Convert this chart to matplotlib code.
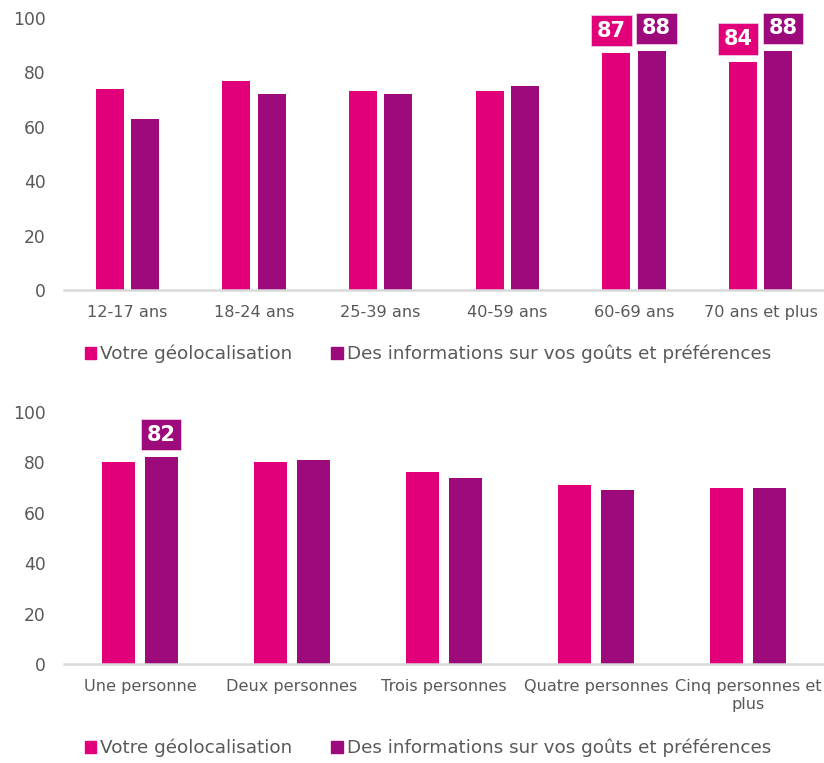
import matplotlib.pyplot as plt
import numpy as np
from matplotlib.patches import Rectangle

# data
series = ["Votre géolocalisation", "Des informations sur vos goûts et préférences"]
colors = ["#E2007A", "#9C0A7B"]

age_groups = ["12-17 ans", "18-24 ans", "25-39 ans", "40-59 ans", "60-69 ans", "70 ans et plus"]
age_geo = [74, 77, 73, 73, 87, 84]
age_gouts = [63, 72, 72, 75, 88, 88]
age_labelled = [(4, 0), (4, 1), (5, 0), (5, 1)]

foyer = ["Une personne", "Deux personnes", "Trois personnes", "Quatre personnes", "Cinq personnes et\nplus"]
foyer_geo = [80, 80, 76, 71, 70]
foyer_gouts = [82, 81, 74, 69, 70]
foyer_labelled = [(0, 1)]

plt.rcParams['font.family'] = ['DejaVu Sans']
W, H = 824, 763
fig = plt.figure(figsize=(W / 100, H / 100), dpi=100)
grey = "#595959"


def draw(ax, cats, vals, labelled):
    x = np.arange(len(cats))
    w, off = 0.22, 0.14
    for k, v in enumerate(vals):
        ax.bar(x + (2 * k - 1) * off, v, w, color=colors[k], edgecolor='none')
    cats_lab = [i for i, _ in labelled]
    for (i, k) in labelled:
        # push the boxes apart a little when both bars of a group carry one
        dx = (2 * k - 1) * 3.5 if cats_lab.count(i) > 1 else 0
        ax.annotate(str(vals[k][i]), (x[i] + (2 * k - 1) * off, vals[k][i]),
                    xytext=(dx, 9), textcoords='offset points', ha='center', va='bottom',
                    fontsize=15, fontweight='bold', color='white',
                    bbox=dict(boxstyle='square,pad=0.27', fc=colors[k], ec='#f3c6e0', lw=0.6))
    ax.set_xlim(-0.5, len(cats) - 0.5)
    ax.set_ylim(0, 100)
    ax.set_yticks(range(0, 101, 20))
    ax.set_xticks(x)
    ax.set_xticklabels(cats)
    ax.tick_params(axis='x', length=0, labelsize=11.6, labelcolor=grey, pad=11)
    ax.tick_params(axis='y', length=0, labelsize=12.3, labelcolor=grey, pad=13)
    for s in ['top', 'right', 'left']:
        ax.spines[s].set_visible(False)
    ax.spines['bottom'].set_color('#D9D9D9')
    ax.spines['bottom'].set_linewidth(1.8)
    ax.set_facecolor('none')


def legend(ycenter):
    handles = [Rectangle((0, 0), 1, 1, color=c) for c in colors]
    fig.legend(handles, series, loc='center', bbox_to_anchor=(428 / W, 1 - ycenter / H),
               ncol=2, frameon=False, fontsize=13.2, labelcolor=grey,
               handlelength=0.62, handleheight=0.62, handletextpad=0.25, columnspacing=2.1)


ax1 = fig.add_axes([64 / W, 1 - 290 / H, 1 - 64 / W, (290 - 18) / H])
draw(ax1, age_groups, [age_geo, age_gouts], age_labelled)
legend(354)

ax2 = fig.add_axes([64 / W, 1 - 664 / H, 1 - 64 / W, (664 - 412) / H])
draw(ax2, foyer, [foyer_geo, foyer_gouts], foyer_labelled)
legend(748)

fig.savefig("out.png", dpi=100)
